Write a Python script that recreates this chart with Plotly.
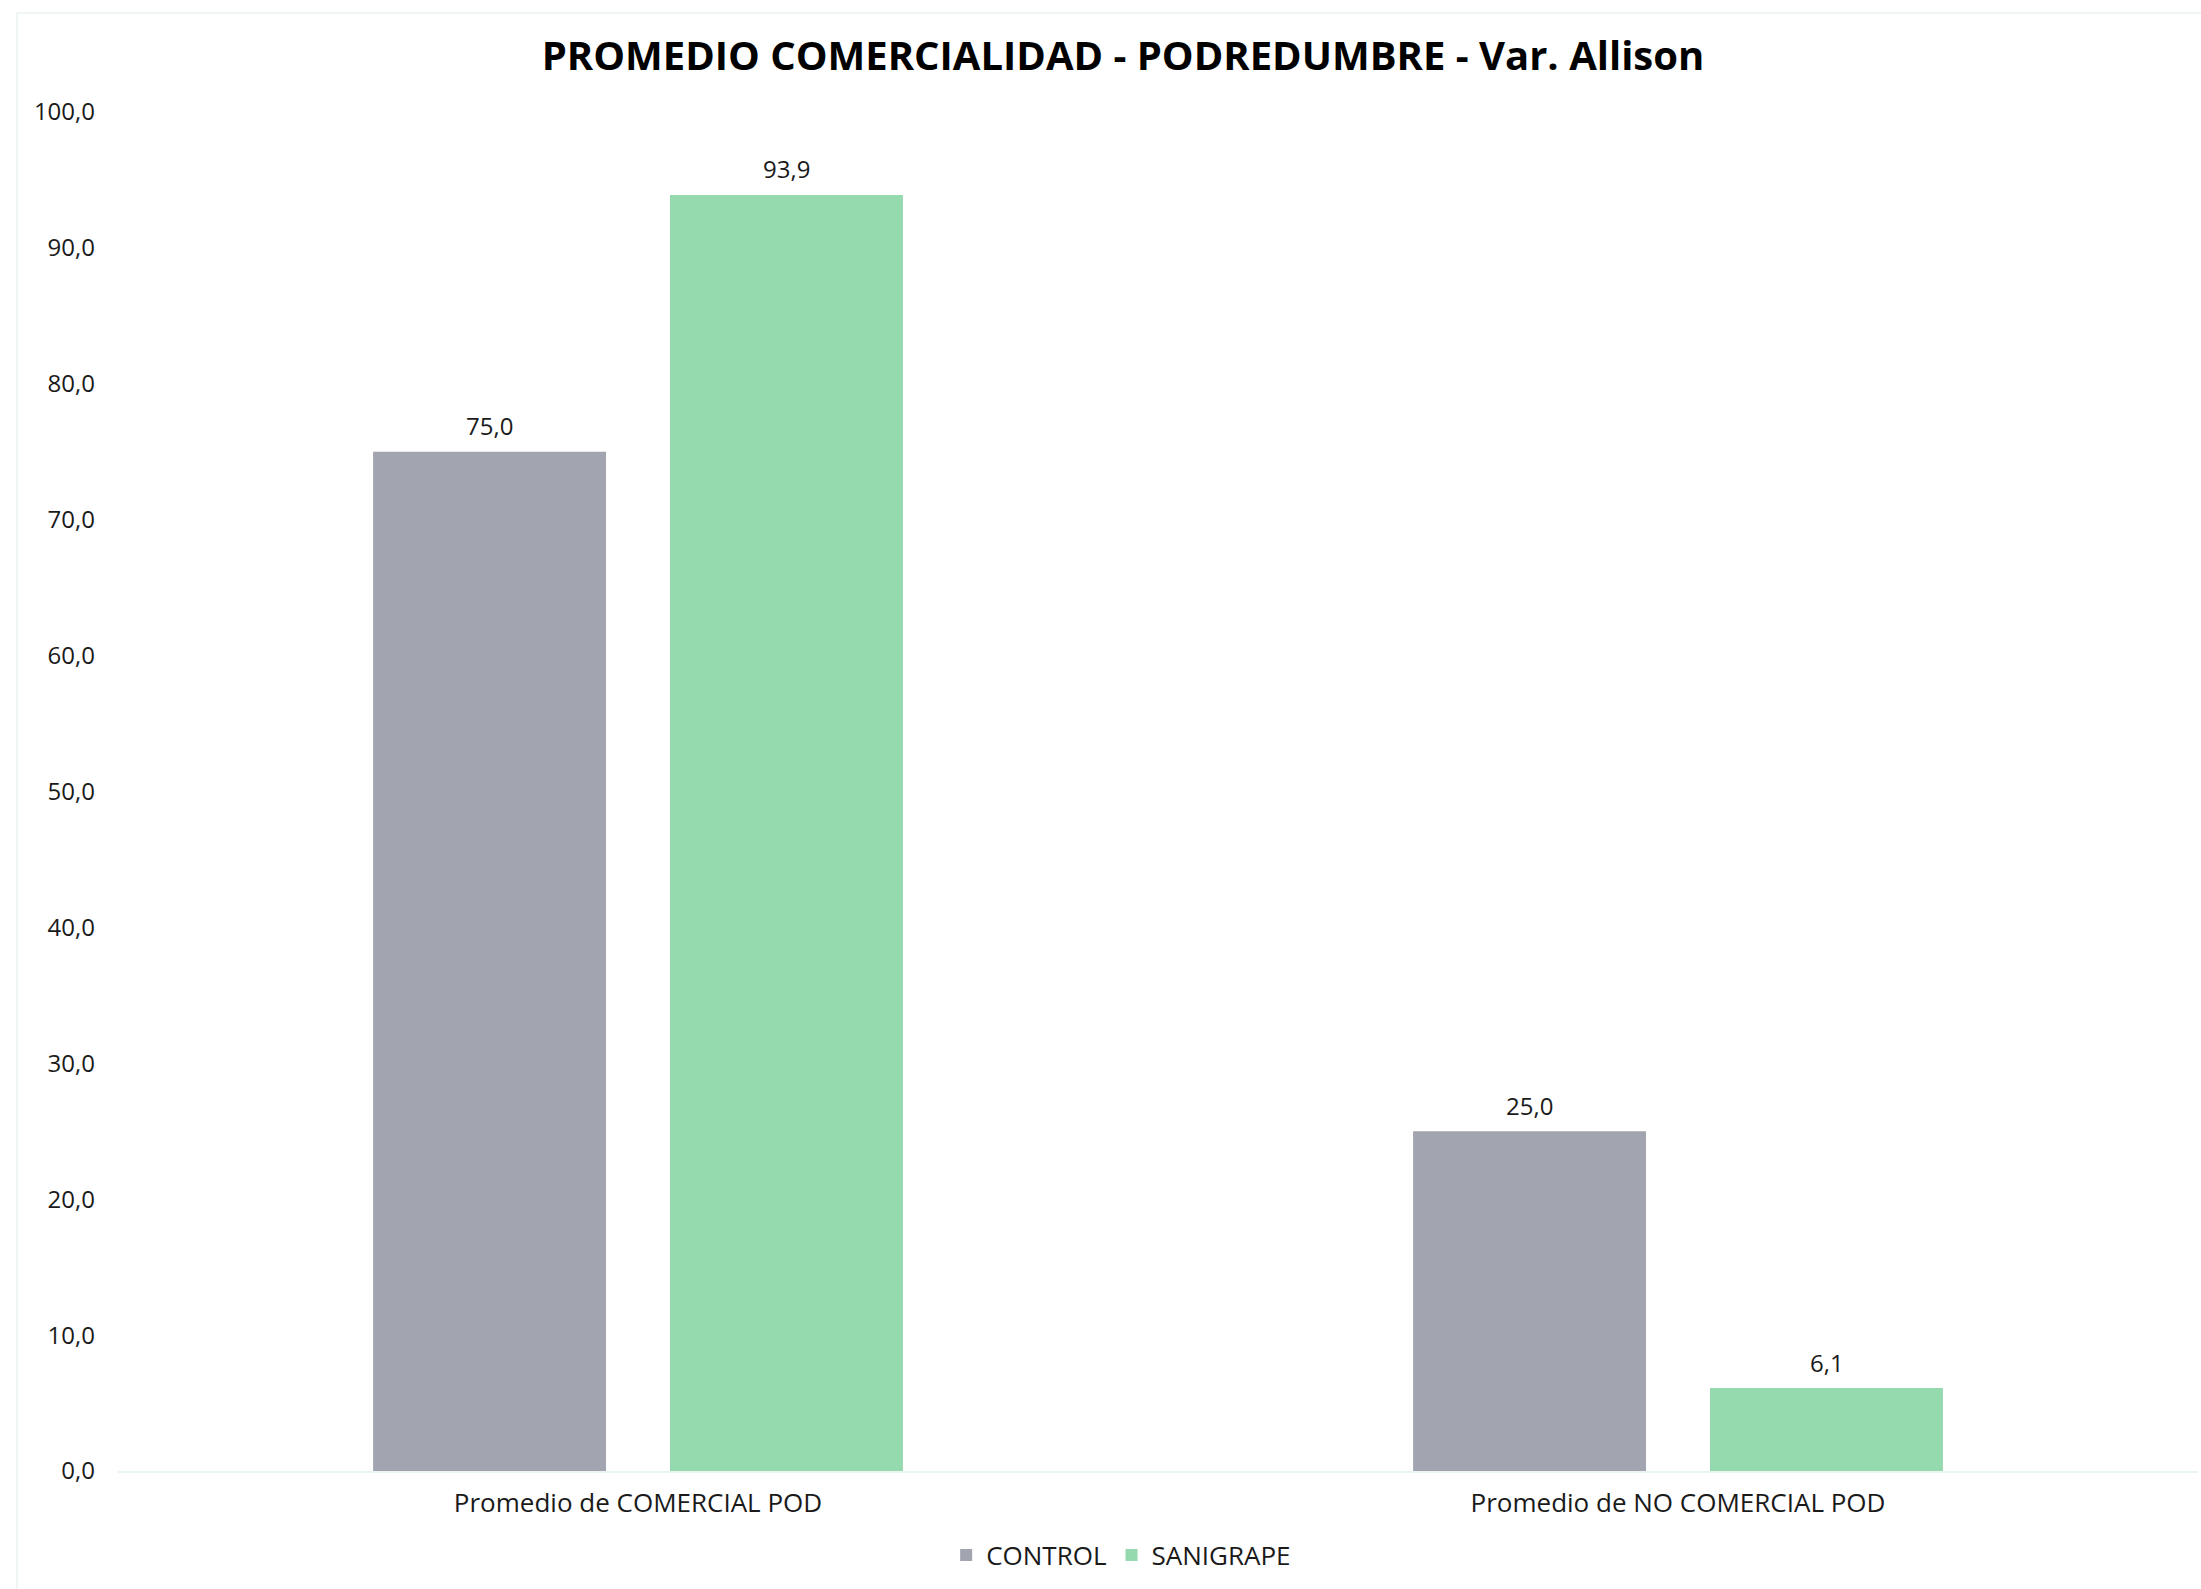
import plotly.graph_objects as go

categories = ["Promedio de COMERCIAL POD", "Promedio de NO COMERCIAL POD"]
series_names = ["CONTROL", "SANIGRAPE"]
control_values = [75.0, 25.0]
sanigrape_values = [93.9, 6.1]
series_colors = ["#A2A4AF", "#95D9AF"]
y_ticks = [0, 10, 20, 30, 40, 50, 60, 70, 80, 90, 100]

W, H = 2201, 1589
FONT = "Open Sans"
SLOT_HALF = 148.5  # half of a bar slot in px, for centring labels over grouped bars

fig = go.Figure()
for name, vals, col in zip(series_names, [control_values, sanigrape_values], series_colors):
    fig.add_trace(go.Bar(
        x=categories, y=vals, name=name,
        marker=dict(color=col, line=dict(width=0)),
        cliponaxis=False,
    ))

annotations = []
for i, vals in enumerate([control_values, sanigrape_values]):
    shift = -SLOT_HALF if i == 0 else SLOT_HALF
    for cat, v in zip(categories, vals):
        annotations.append(dict(
            x=cat, y=v, xref="x", yref="y", text=f"{v:.1f}".replace(".", ","),
            showarrow=False, xshift=shift, yshift=26, yanchor="middle",
            font=dict(family=FONT, size=24, color="#1a1a1a")))

fig.update_layout(
    width=W, height=H, autosize=False,
    paper_bgcolor="white", plot_bgcolor="white",
    separators=",.",
    margin=dict(l=118, r=3, t=112, b=118),
    barmode="group", bargap=0.429, bargroupgap=0.2155,
    font=dict(family=FONT, size=24, color="#1a1a1a"),
    title=dict(text="<b>PROMEDIO COMERCIALIDAD - PODREDUMBRE - Var. Allison</b>",
               x=1123 / W, xanchor="center", y=1 - 56 / H, yanchor="middle",
               font=dict(family=FONT, size=40, color="black")),
    legend=dict(orientation="h", x=(803 * 1.4037 - 124) / 2080, xanchor="center",
                y=-84 / 1359, yanchor="middle",
                font=dict(family=FONT, size=26, color="#1a1a1a"),
                itemwidth=30, traceorder="normal"),
    xaxis=dict(showline=True, linecolor="#EAF4F1", linewidth=2,
               showgrid=False, ticks="", ticklabelstandoff=8,
               tickfont=dict(family=FONT, size=26, color="#1a1a1a")),
    yaxis=dict(range=[0, 100], tickvals=y_ticks, tickformat=".1f",
               showgrid=False, zeroline=False, showline=False,
               ticks="", ticklabelstandoff=22,
               tickfont=dict(family=FONT, size=24, color="#1a1a1a")),
    annotations=annotations,
    shapes=[dict(type="rect", xref="paper", yref="paper",
                 x0=-101 / 2080, x1=1.01, y0=-1.2, y1=1 + 99 / 1359,
                 line=dict(color="#EEF5F2", width=2), fillcolor="rgba(0,0,0,0)",
                 layer="below")],
)

fig.write_html("out.html", config={"displayModeBar": False},
               post_script="document.body.style.margin='0';")
